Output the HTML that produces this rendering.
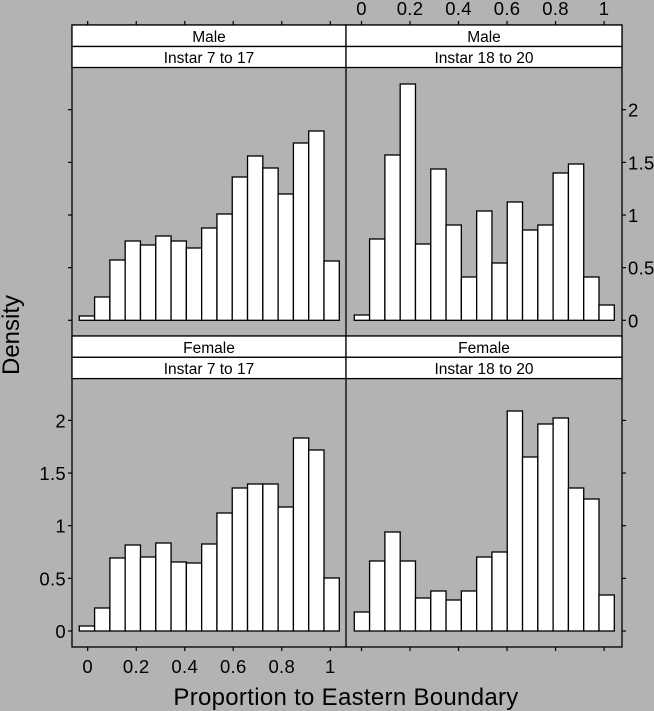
<!DOCTYPE html>
<html><head><meta charset="utf-8"><style>
html,body{margin:0;padding:0;background:#b3b3b3;}
svg{display:block;font-family:"Liberation Sans",sans-serif;}
</style></head><body>
<svg id="s" width="654" height="711" viewBox="0 0 654 711" xmlns="http://www.w3.org/2000/svg">
<rect width="654" height="711" fill="#b3b3b3"/>
<g id="bars" fill="#fff" stroke="#000" stroke-width="1.3"></g>
<g fill="none" stroke="#000" stroke-width="1.3">
<rect x="72" y="25" width="550" height="622"/>
<line x1="346" y1="25" x2="346" y2="647"/>
<line x1="72" y1="336" x2="622" y2="336"/>
</g>
<g fill="#fff" stroke="#000" stroke-width="1.3">
<rect x="72" y="25" width="274" height="21.5"/><rect x="72" y="46.5" width="274" height="21"/>
<rect x="346" y="25" width="276" height="21.5"/><rect x="346" y="46.5" width="276" height="21"/>
<rect x="72" y="336" width="274" height="21.3"/><rect x="72" y="357.3" width="274" height="21.3"/>
<rect x="346" y="336" width="276" height="21.3"/><rect x="346" y="357.3" width="276" height="21.3"/>
</g>
<g font-size="15.5" text-anchor="middle" fill="#000">
<text x="209" y="42">Male</text><text x="209" y="63">Instar 7 to 17</text>
<text x="484" y="42">Male</text><text x="484" y="63">Instar 18 to 20</text>
<text x="209" y="353">Female</text><text x="209" y="374">Instar 7 to 17</text>
<text x="484" y="353">Female</text><text x="484" y="374">Instar 18 to 20</text>
</g>
<g id="ticks" stroke="#000" stroke-width="1.2"></g>
<g id="labs" font-size="18.5" letter-spacing="0.3" fill="#000"></g>
<text x="346" y="705" font-size="24" letter-spacing="0.3" text-anchor="middle">Proportion to Eastern Boundary</text>
<text transform="translate(19,335) rotate(-90)" font-size="24" text-anchor="middle">Density</text>
</svg>
<script>
var NS="http://www.w3.org/2000/svg";
function el(p,t,a,txt){var e=document.createElementNS(NS,t);for(var k in a)e.setAttribute(k,a[k]);if(txt!==undefined)e.textContent=txt;document.getElementById(p).appendChild(e);}
var panels=[
 {x0:79.3,base:320.3,tops:[316,297,260,241,245,236,241,248,228,214,177,156,168,194,143,131,261]},
 {x0:354.3,base:320.3,tops:[315,239,155,84,244,169,225,277,211,263,202,230,225,173,164,277,305]},
 {x0:79.3,base:631,tops:[626,608,558,545,557,543,562,563,544,513,488,484,484,507,438,450,578]},
 {x0:354.3,base:631,tops:[612,561,532,561,598,591,600,591,557,552,411,457,424,418,488,499,595]}];
var w=260/17;
panels.forEach(function(p){p.tops.forEach(function(t,i){el("bars","rect",{x:p.x0+i*w,y:t,width:w,height:p.base-t});});});
var sc=105.3, xs=242.6;
for(var i=0;i<=5;i++){var v=i*0.2;
 var xl=87.7+v*xs, xr=361.5+v*xs;
 el("ticks","line",{x1:xl,y1:25,x2:xl,y2:21});
 el("ticks","line",{x1:xr,y1:25,x2:xr,y2:21});
 el("ticks","line",{x1:xl,y1:647,x2:xl,y2:651});
 el("ticks","line",{x1:xr,y1:647,x2:xr,y2:651});
 var lab=i==0?"0":(i==5?"1":v.toFixed(1));
 el("labs","text",{x:xl,y:673,"text-anchor":"middle"},lab);
 el("labs","text",{x:xr,y:15,"text-anchor":"middle"},lab);
}
for(var j=0;j<=4;j++){var v=j*0.5;
 var yt=320.3-v*sc, yb=631-v*sc;
 el("ticks","line",{x1:72,y1:yt,x2:68,y2:yt});
 el("ticks","line",{x1:72,y1:yb,x2:68,y2:yb});
 el("ticks","line",{x1:622,y1:yt,x2:626,y2:yt});
 el("ticks","line",{x1:622,y1:yb,x2:626,y2:yb});
 var lab=(j%2==0)?String(v):v.toFixed(1);
 el("labs","text",{x:66,y:yb+7,"text-anchor":"end"},lab);
 el("labs","text",{x:628,y:yt+7,"text-anchor":"start"},lab);
}
</script>
</body></html>
